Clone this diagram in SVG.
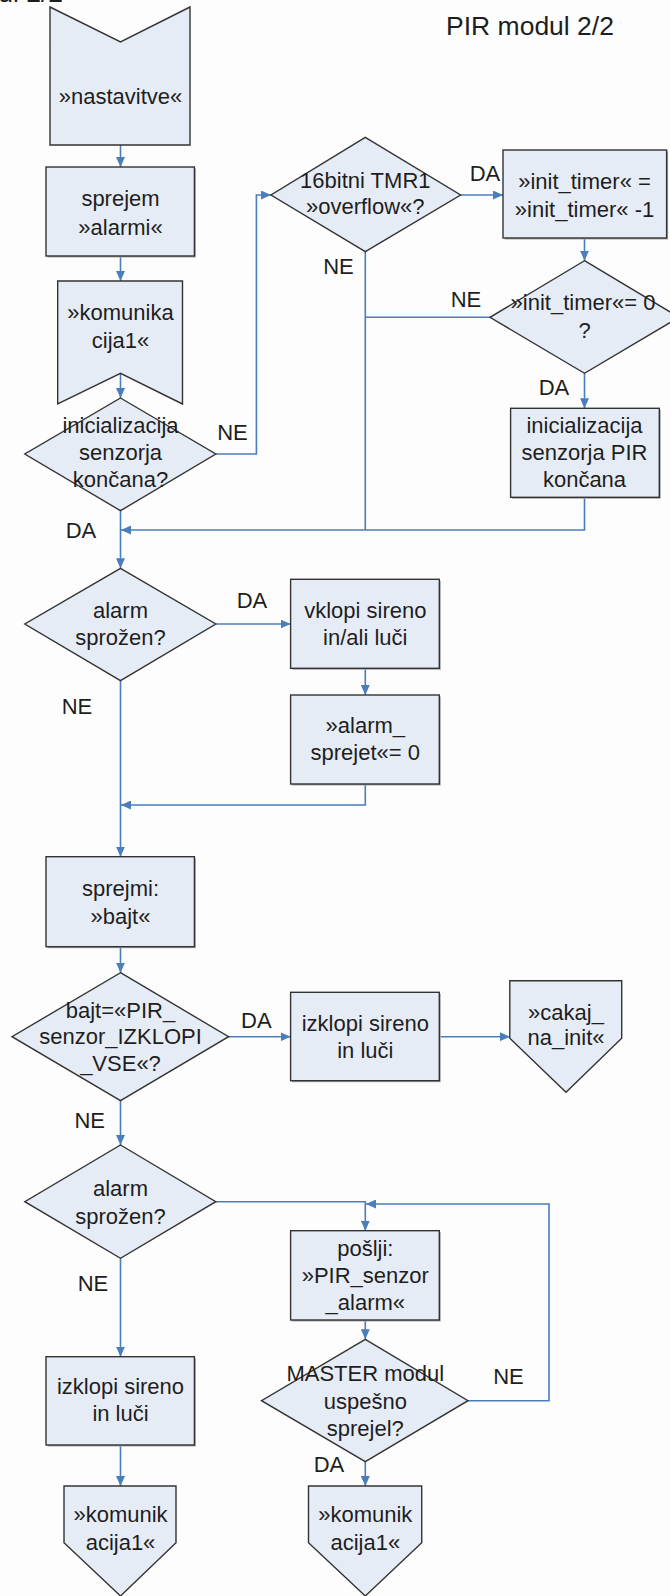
<svg xmlns="http://www.w3.org/2000/svg" width="670" height="1596" viewBox="0 0 670 1596">
  <style>
    .shape { fill: #e6ecf6; stroke: #333333; stroke-width: 1.4; }
    .shadow { fill: #a8a8a8; }
    .conn { fill: none; stroke: #4a7ebb; stroke-width: 1.6; }
    text { font-family: "Liberation Sans", Arial, sans-serif; font-size: 22px; fill: #1e1e1e; text-anchor: middle; }
    .title { font-size: 26.5px; }
  </style>
  <defs>
    <marker id="arrow" markerUnits="userSpaceOnUse" markerWidth="10" markerHeight="9" refX="10" refY="4.5" orient="auto">
      <path d="M0,0 L10,4.5 L0,9 z" fill="#4a7ebb"/>
    </marker>
  </defs>
  <rect x="0" y="0" width="670" height="1596" fill="#fdfdfd"/>

  <!-- page headings -->
  <text class="title" x="63" y="2" style="text-anchor:end">PIR modul 2/2</text>
  <text class="title" x="530" y="35">PIR modul 2/2</text>

  <!-- connectors -->
  <g id="connectors">
    <path class="conn" marker-end="url(#arrow)" d="M120.5,145 V167"/>
    <path class="conn" marker-end="url(#arrow)" d="M120.5,256 V281"/>
    <path class="conn" marker-end="url(#arrow)" d="M120.5,373 V398"/>
    <path class="conn" marker-end="url(#arrow)" d="M215.8,454 H256.4 V195 H271"/>
    <path class="conn" marker-end="url(#arrow)" d="M460.6,195 H503"/>
    <path class="conn" marker-end="url(#arrow)" d="M584.5,238 V260.7"/>
    <path class="conn" marker-end="url(#arrow)" d="M584.5,373.3 V408.3"/>
    <path class="conn" d="M490,317.3 H365.3"/>
    <path class="conn" d="M365.3,251.7 V530"/>
    <path class="conn" marker-end="url(#arrow)" d="M584.5,497.3 V530 H121"/>
    <path class="conn" marker-end="url(#arrow)" d="M120.5,510.7 V568.3"/>
    <path class="conn" marker-end="url(#arrow)" d="M215.8,624 H290.6"/>
    <path class="conn" marker-end="url(#arrow)" d="M365.3,668.3 V695"/>
    <path class="conn" marker-end="url(#arrow)" d="M365.3,784 V805 H121"/>
    <path class="conn" marker-end="url(#arrow)" d="M120.5,680.7 V856.7"/>
    <path class="conn" marker-end="url(#arrow)" d="M120.5,946.7 V972.7"/>
    <path class="conn" marker-end="url(#arrow)" d="M228.6,1036.7 H290.6"/>
    <path class="conn" marker-end="url(#arrow)" d="M439.3,1036.7 H509.8"/>
    <path class="conn" marker-end="url(#arrow)" d="M120.5,1100.7 V1145"/>
    <path class="conn" marker-end="url(#arrow)" d="M215.8,1201.7 H365.3 V1230.7"/>
    <path class="conn" marker-end="url(#arrow)" d="M365.3,1320 V1339.3"/>
    <path class="conn" marker-end="url(#arrow)" d="M468,1400.7 H549 V1204 H366"/>
    <path class="conn" marker-end="url(#arrow)" d="M120.5,1258.3 V1356.7"/>
    <path class="conn" marker-end="url(#arrow)" d="M120.5,1445 V1486"/>
    <path class="conn" marker-end="url(#arrow)" d="M365.3,1461.7 V1486"/>
  </g>

  <!-- branch labels -->
  <g id="labels">
    <text x="232.5" y="440">NE</text>
    <text x="338.5" y="274">NE</text>
    <text x="485" y="181">DA</text>
    <text x="466" y="307">NE</text>
    <text x="554" y="395">DA</text>
    <text x="81" y="538">DA</text>
    <text x="252" y="608">DA</text>
    <text x="77" y="714">NE</text>
    <text x="256.4" y="1028">DA</text>
    <text x="89.7" y="1128">NE</text>
    <text x="93" y="1291">NE</text>
    <text x="508.5" y="1384">NE</text>
    <text x="329" y="1472">DA</text>
  </g>

  <!-- nodes -->
  <g id="n-nastavitve">
    <polygon class="shape" points="50,7 120.5,42 190,7 190,145 50,145"/>
    <text x="120.5" y="104">»nastavitve«</text>
  </g>
  <g id="n-sprejem">
    <rect class="shadow" x="47.5" y="168.5" width="148.4" height="89"/>
    <rect class="shape" x="46" y="167" width="148.4" height="89"/>
    <text x="120.5" y="206">sprejem</text>
    <text x="120.5" y="235">»alarmi«</text>
  </g>
  <g id="n-komunikacija">
    <polygon class="shape" points="57.7,281 182.5,281 182.5,404 120.5,373.3 57.7,404"/>
    <text x="120.5" y="319.5">»komunika</text>
    <text x="120.5" y="348">cija1«</text>
  </g>
  <g id="n-init-done">
    <polygon class="shape" points="120.5,398 215.8,454 120.5,510.7 24.8,454"/>
    <text x="120.5" y="433">inicializacija</text>
    <text x="120.5" y="460">senzorja</text>
    <text x="120.5" y="487">končana?</text>
  </g>
  <g id="n-tmr1">
    <polygon class="shape" points="365.3,137.3 460.6,195 365.3,251.7 271,195"/>
    <text x="365.3" y="188.3">16bitni TMR1</text>
    <text x="365.3" y="214.3">»overflow«?</text>
  </g>
  <g id="n-timer-dec">
    <rect class="shadow" x="504.5" y="151.5" width="163.6" height="88"/>
    <rect class="shape" x="503" y="150" width="163.6" height="88"/>
    <text x="584.5" y="189">»init_timer« =</text>
    <text x="584.5" y="217">»init_timer« -1</text>
  </g>
  <g id="n-timer-zero">
    <polygon class="shape" points="584.5,260.7 679,317.3 584.5,373.3 490,317.3"/>
    <text x="583" y="309.5">»init_timer«= 0</text>
    <text x="584.5" y="338">?</text>
  </g>
  <g id="n-pir-ready">
    <rect class="shadow" x="512.1" y="409.8" width="148.7" height="89"/>
    <rect class="shape" x="510.6" y="408.3" width="148.7" height="89"/>
    <text x="584.5" y="433">inicializacija</text>
    <text x="584.5" y="460">senzorja PIR</text>
    <text x="584.5" y="487">končana</text>
  </g>
  <g id="n-alarm1">
    <polygon class="shape" points="120.5,568.3 215.8,624 120.5,680.7 24.8,624"/>
    <text x="120.5" y="618">alarm</text>
    <text x="120.5" y="645">sprožen?</text>
  </g>
  <g id="n-vklopi">
    <rect class="shadow" x="292.1" y="580.8" width="148.7" height="89"/>
    <rect class="shape" x="290.6" y="579.3" width="148.7" height="89"/>
    <text x="365.3" y="618">vklopi sireno</text>
    <text x="365.3" y="645">in/ali luči</text>
  </g>
  <g id="n-alarm-reset">
    <rect class="shadow" x="292.1" y="696.5" width="148.7" height="89"/>
    <rect class="shape" x="290.6" y="695" width="148.7" height="89"/>
    <text x="365.3" y="733">»alarm_</text>
    <text x="365.3" y="760">sprejet«= 0</text>
  </g>
  <g id="n-sprejmi">
    <rect class="shadow" x="47.5" y="858.2" width="148.4" height="90"/>
    <rect class="shape" x="46" y="856.7" width="148.4" height="90"/>
    <text x="120.5" y="896">sprejmi:</text>
    <text x="120.5" y="924">»bajt«</text>
  </g>
  <g id="n-bajt">
    <polygon class="shape" points="120.5,972.7 228.6,1036.7 120.5,1100.7 12,1036.7"/>
    <text x="120.5" y="1018">bajt=«PIR_</text>
    <text x="120.5" y="1044">senzor_IZKLOPI</text>
    <text x="120.5" y="1071">_VSE«?</text>
  </g>
  <g id="n-izklopi1">
    <rect class="shadow" x="292.1" y="993.8" width="148.7" height="88.4"/>
    <rect class="shape" x="290.6" y="992.3" width="148.7" height="88.4"/>
    <text x="365.3" y="1030.5">izklopi sireno</text>
    <text x="365.3" y="1058">in luči</text>
  </g>
  <g id="n-cakaj">
    <polygon class="shape" points="509.8,980.7 621.7,980.7 621.7,1038.3 566,1092.3 509.8,1038.3"/>
    <text x="566" y="1019.5">»cakaj_</text>
    <text x="566" y="1044.5">na_init«</text>
  </g>
  <g id="n-alarm2">
    <polygon class="shape" points="120.5,1145 215.8,1201.7 120.5,1258.3 24.8,1201.7"/>
    <text x="120.5" y="1196">alarm</text>
    <text x="120.5" y="1224">sprožen?</text>
  </g>
  <g id="n-poslji">
    <rect class="shadow" x="292.1" y="1232.2" width="148.7" height="89.3"/>
    <rect class="shape" x="290.6" y="1230.7" width="148.7" height="89.3"/>
    <text x="365.3" y="1256">pošlji:</text>
    <text x="365.3" y="1283">»PIR_senzor</text>
    <text x="365.3" y="1309.5">_alarm«</text>
  </g>
  <g id="n-master">
    <polygon class="shape" points="365.3,1339.3 468,1400.7 365.3,1461.7 261.5,1400.7"/>
    <text x="365.3" y="1380.5">MASTER modul</text>
    <text x="365.3" y="1408.5">uspešno</text>
    <text x="365.3" y="1436">sprejel?</text>
  </g>
  <g id="n-izklopi2">
    <rect class="shadow" x="47.5" y="1358.2" width="148.4" height="88.3"/>
    <rect class="shape" x="46" y="1356.7" width="148.4" height="88.3"/>
    <text x="120.5" y="1394">izklopi sireno</text>
    <text x="120.5" y="1421">in luči</text>
  </g>
  <g id="n-komunik-a">
    <polygon class="shape" points="64,1486 176,1486 176,1542.7 120.5,1596 64,1542.7"/>
    <text x="120.5" y="1522">»komunik</text>
    <text x="120.5" y="1549.5">acija1«</text>
  </g>
  <g id="n-komunik-b">
    <polygon class="shape" points="308.5,1486 421.7,1486 421.7,1542.7 365.3,1596 308.5,1542.7"/>
    <text x="365.3" y="1522">»komunik</text>
    <text x="365.3" y="1549.5">acija1«</text>
  </g>
</svg>
